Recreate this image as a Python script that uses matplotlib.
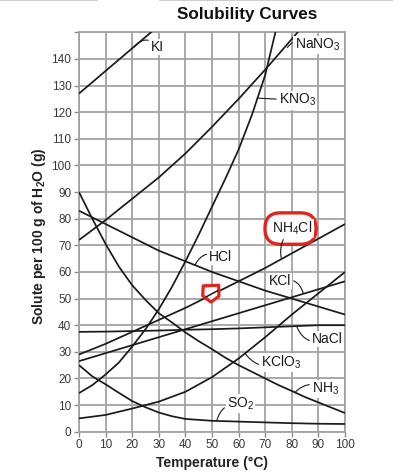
import numpy as np
import matplotlib
matplotlib.use('Agg')
from matplotlib import pyplot as plt
from matplotlib.patches import FancyBboxPatch, Polygon
from matplotlib.lines import Line2D

plt.rcParams['font.family'] = ['Liberation Sans', 'DejaVu Sans']
plt.rcParams['mathtext.fontset'] = 'custom'
plt.rcParams['mathtext.rm'] = 'Liberation Sans'
plt.rcParams['mathtext.bf'] = 'Liberation Sans:bold'

# temperatures (deg C) the curves were read at
t10 = [0, 10, 20, 30, 40, 50, 60, 70, 80, 90, 100]
t5 = [0, 5, 10, 15, 20, 25, 30, 35, 40, 45, 50, 55, 60, 65, 70, 75, 80, 85, 90, 95, 100]

# solubility values, g per 100 g water
ki_t = [0, 10, 20, 30]
ki = [127, 135.5, 144, 152.5]
nano3_t = [0, 10, 20, 30, 40, 50, 60, 70, 80, 90]
nano3 = [72, 79.5, 87.5, 95.5, 104.5, 114.5, 125, 136, 147.5, 159]
kno3_t = [0, 5, 10, 15, 20, 25, 30, 35, 40, 45, 50, 55, 60, 65, 70, 75]
kno3 = [14.5, 17.5, 21.5, 26, 32, 38.5, 46, 54.5, 64, 74, 84.5, 95, 106, 119, 134, 155]
nh4cl = [29, 33, 37.5, 42, 46.5, 51.5, 56.5, 61.5, 67, 72.5, 78]
hcl = [83, 78, 73, 68, 64, 60, 56.5, 53, 50, 47, 44]
kcl = [26.5, 29.5, 32.5, 35.5, 38.5, 41.5, 44.5, 47.5, 50.5, 53.5, 56.5]
nacl = [37.5, 37.6, 37.8, 38, 38.3, 38.5, 38.8, 39.2, 39.6, 40, 40]
kclo3 = [5, 6.3, 8.7, 11.3, 15, 20.5, 27.5, 35.5, 44, 52, 60]
nh3 = [90, 80, 70.5, 62, 55, 49.5, 44.5, 41, 37.3, 34, 31, 27.8, 25, 22.5, 20,
       17.5, 15.3, 13, 11, 9, 7]
so2_t = [0, 5, 10, 15, 20, 25, 30, 35, 40, 50, 60, 70, 80, 90, 100]
so2 = [25, 20.8, 17.8, 14.6, 11.5, 9.2, 7.2, 5.8, 4.8, 4.1, 3.8, 3.5, 3.2, 3, 2.9]

curves = [(ki_t, ki), (nano3_t, nano3), (kno3_t, kno3), (t10, nh4cl), (t10, hcl),
          (t10, kcl), (t10, nacl), (t10, kclo3), (t5, nh3), (so2_t, so2)]

# label text, where the text sits, where the leader touches the curve, bend
labels = [
    ('KI', (26.9, 144.5), (20.8, 144.6), 0.6),
    (r'NaNO$_\mathregular{3}$', (81.0, 145.3), (78.3, 144.3), 0.5),
    (r'KNO$_\mathregular{3}$', (75, 124.5), (67, 125.3), 0.0),
    ('HCl', (48.9, 65.7), (43.6, 62.6), 0.5),
    (r'NH$_\mathregular{4}$Cl', (72.7, 76.3), (76, 65.3), 0.3),
    ('KCl', (71.4, 56.6), (84.3, 52.0), -0.5),
    ('NaCl', (87.5, 34.8), (81.8, 39.6), -0.5),
    (r'KClO$_\mathregular{3}$', (68.4, 26), (62.4, 29.4), -0.4),
    (r'NH$_\mathregular{3}$', (87.5, 16), (81.2, 14.8), 0.4),
    (r'SO$_\mathregular{2}$', (55.5, 10.6), (51.8, 4.2), 0.4),
]

fig = plt.figure(figsize=(3.93, 4.74), dpi=100)
ax = fig.add_axes([0.201, 0.0892, 0.677, 0.8426])

for tt, vals in curves:
    ax.plot(tt, vals, color='#1a1a1a', lw=1.25, solid_capstyle='butt',
            solid_joinstyle='round', zorder=3)

# red hand marks
ring_center = (79.5, 76.3)
ring_w, ring_h = 19.2, 11.8
ring = FancyBboxPatch((ring_center[0] - ring_w / 2, ring_center[1] - ring_h / 2),
                      ring_w, ring_h, boxstyle='round,pad=0,rounding_size=5.8',
                      facecolor='white', edgecolor='#e3241b', lw=2.4, zorder=4,
                      clip_on=False)
ax.add_patch(ring)

shield_center = (49.6, 52.1)
shield_shape = [(-2.9, 2.7), (2.9, 2.9), (3.0, -1.2), (0.0, -3.4), (-3.1, -1.0)]
shield = Polygon([(shield_center[0] + dx, shield_center[1] + dy) for dx, dy in shield_shape],
                 closed=True, facecolor='white', edgecolor='#e3241b', lw=2.3,
                 joinstyle='round', zorder=5)
ax.add_patch(shield)
ax.plot([47.9, 52.0], [50.7, 52.9], color='#1a1a1a', lw=1.1, zorder=6)

for txt, pos, target, rad in labels:
    ax.annotate(txt, xy=target, xytext=pos, fontsize=10, color='#1a1a1a',
                ha='left', va='center', zorder=7,
                bbox=dict(boxstyle='square,pad=0.08', fc='white', ec='none'),
                arrowprops=dict(arrowstyle='-', color='#1a1a1a', lw=0.8,
                                shrinkA=1, shrinkB=0,
                                connectionstyle='arc3,rad=%s' % rad))

ax.set_xlim(0, 100)
ax.set_ylim(0, 150)
ax.set_xticks(range(0, 101, 10))
ax.set_yticks(range(0, 151, 10))
ax.set_yticklabels([str(v) for v in range(0, 141, 10)] + [''])
ax.grid(True, color='#a3a3a3', lw=1.3)
ax.set_axisbelow(True)
for s in ax.spines.values():
    s.set_color('#a3a3a3')
    s.set_linewidth(1.3)
ax.tick_params(length=3.5, width=1.0, color='#8a8a8a', labelsize=8.5,
               labelcolor='#3a3a3a', pad=2)

ax.set_xlabel('Temperature (°C)', fontsize=10, fontweight='bold', color='#222222')
ax.set_ylabel(r'Solute per 100 g of H$_\mathbf{2}$O (g)', fontsize=10,
              fontweight='bold', color='#222222')
ax.xaxis.set_label_coords(0.5, -0.062)
ax.yaxis.set_label_coords(-0.117, 0.49)

fig.text(247 / 393, 1 - 14 / 474, 'Solubility Curves', fontsize=12.3,
         fontweight='bold', color='#111111', ha='center', va='center')

# faint scan lines along the top edge
fig.add_artist(Line2D([0, 97 / 393], [0.999, 0.999], transform=fig.transFigure,
                      color='#c4c4c4', lw=1.2))
fig.add_artist(Line2D([160 / 393, 1], [0.999, 0.999], transform=fig.transFigure,
                      color='#c4c4c4', lw=1.2))

fig.savefig('out.png', dpi=100)
